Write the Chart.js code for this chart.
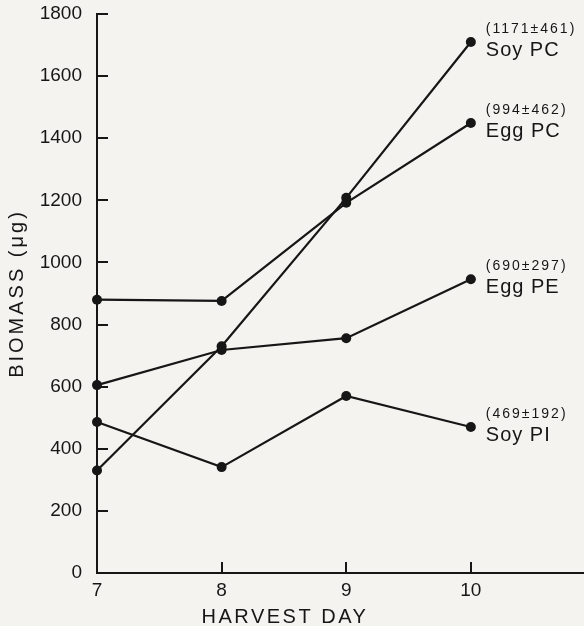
<!DOCTYPE html>
<html><head><meta charset="utf-8">
<style>html,body{margin:0;padding:0;background:#f5f3ef;overflow:hidden;}#wrap{width:588px;height:626px;position:relative;}</style>
<script src="https://cdn.jsdelivr.net/npm/chart.js@4"></script>
</head><body><div id="wrap"><canvas id="c"></canvas></div>
<script>
const days = [7, 8, 9, 10];
const seriesNames = ['Soy PC', 'Egg PC', 'Egg PE', 'Soy PI'];
const soyPC = [330, 730, 1208, 1710];
const eggPC = [880, 876, 1192, 1449];
const eggPE = [605, 718, 756, 946];
const soyPI = [486, 341, 570, 470];
const seriesStats = ['(1171±461)', '(994±462)', '(690±297)', '(469±192)'];
const yTickValues = [0, 200, 400, 600, 800, 1000, 1200, 1400, 1600, 1800];
const xTickValues = [7, 8, 9, 10];

const INK = '#161616';
const FONT = 'Liberation Sans, Arial, sans-serif';

function mk(name, vals){
  return {
    label: name,
    data: days.map((d,i)=>({x:d, y:vals[i]})),
    borderColor: INK, backgroundColor: INK,
    borderWidth: 2.2, pointRadius: 5, pointHoverRadius: 5,
    pointBorderWidth: 0, tension: 0, clip: false
  };
}

function zeroPad(s){ s.paddingTop = 0; s.paddingBottom = 0; s.paddingLeft = 0; s.paddingRight = 0; }

const extras = {
  id: 'extras',
  afterDraw(chart){
    const ctx = chart.ctx, xs = chart.scales.x, ys = chart.scales.y;
    ctx.save();
    ctx.strokeStyle = INK; ctx.lineWidth = 2;
    yTickValues.forEach(v=>{
      if(v===0) return;
      const py = Math.round(ys.getPixelForValue(v));
      ctx.beginPath(); ctx.moveTo(xs.left, py); ctx.lineTo(xs.left+11, py); ctx.stroke();
    });
    xTickValues.forEach(v=>{
      if(v===7) return;
      const px = Math.round(xs.getPixelForValue(v));
      ctx.beginPath(); ctx.moveTo(px, ys.bottom); ctx.lineTo(px, ys.bottom-11); ctx.stroke();
    });
    ctx.fillStyle = INK;
    ctx.font = '20px ' + FONT;
    ctx.textAlign = 'center'; ctx.textBaseline = 'alphabetic';
    ctx.letterSpacing = '2.5px';
    ctx.fillText('HARVEST DAY', xs.getPixelForValue(8.5) + 1, 623);
    ctx.save();
    ctx.translate(23, (ys.top + ys.bottom) / 2);
    ctx.rotate(-Math.PI/2);
    ctx.letterSpacing = '3px';
    ctx.fillText('BIOMASS (μg)', 0, 0);
    ctx.restore();
    chart.data.datasets.forEach((ds, i)=>{
      const meta = chart.getDatasetMeta(i);
      const last = meta.data[meta.data.length-1];
      const lx = last.x + 15, ly = last.y;
      ctx.textAlign = 'left'; ctx.textBaseline = 'alphabetic';
      ctx.letterSpacing = '2px';
      ctx.font = '14px ' + FONT;
      ctx.fillText(seriesStats[i], lx, ly - 9);
      ctx.letterSpacing = '1px';
      ctx.font = '20px ' + FONT;
      ctx.fillText(ds.label, lx, ly + 14);
    });
    ctx.restore();
  }
};

new Chart(document.getElementById('c'), {
  type: 'line',
  data: { datasets: [mk(seriesNames[0], soyPC), mk(seriesNames[1], eggPC), mk(seriesNames[2], eggPE), mk(seriesNames[3], soyPI)] },
  options: {
    responsive: true, maintainAspectRatio: false, animation: false, devicePixelRatio: 1,
    layout: { padding: { left: 0, right: 0, top: 14, bottom: 0 } },
    plugins: { legend: { display: false }, tooltip: { enabled: false } },
    scales: {
      x: {
        type: 'linear', min: 7, max: 10.9,
        afterBuildTicks: s => { s.ticks = xTickValues.map(v=>({value:v})); },
        afterFit: s => { s.height = 53; zeroPad(s); },
        grid: { display: false, drawTicks: false },
        border: { display: true, color: INK, width: 2 },
        ticks: { color: INK, font: { size: 19, family: FONT }, padding: 6, maxRotation: 0, autoSkip: false, callback: v => String(v) }
      },
      y: {
        min: 0, max: 1800,
        afterBuildTicks: s => { s.ticks = yTickValues.map(v=>({value:v})); },
        afterFit: s => { s.width = 97; zeroPad(s); },
        grid: { display: false, drawTicks: false },
        border: { display: true, color: INK, width: 2 },
        ticks: { color: INK, font: { size: 19, family: FONT }, padding: 15, autoSkip: false, callback: v => String(v) }
      }
    }
  },
  plugins: [extras]
});
</script></body></html>
